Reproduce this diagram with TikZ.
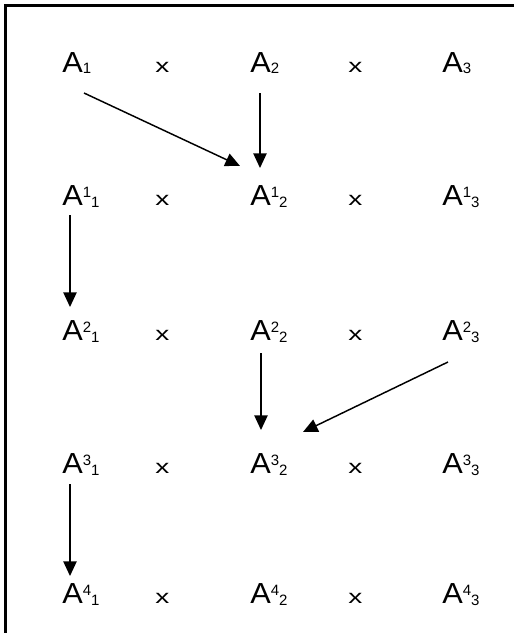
\documentclass[tikz,border=0pt]{standalone}
\usepackage{fontspec}
\setmainfont{Liberation Sans}
\usetikzlibrary{arrows.meta,calc}
\newcommand\bigfnt{\fontsize{21.75pt}{24pt}\selectfont}
\newcommand\digfnt{\fontsize{11.25pt}{12pt}\selectfont}
\newcommand\bigA{\scalebox{1.06}[1]{A}}
\newcommand\Asub[1]{\bigA\raisebox{-0.75pt}{\digfnt #1}}
\newcommand\Asupsub[2]{\bigA\raisebox{6pt}{\digfnt #1}\raisebox{-1.5pt}{\digfnt #2}}
\newcommand\timessign{{\fontsize{14.5pt}{16pt}\selectfont\scalebox{1.45}[1]{x}}}
\begin{document}
\begin{tikzpicture}[x=0.75pt,y=-0.75pt,
  lbl/.style={anchor=base west, inner sep=0pt, font=\bigfnt},
  tms/.style={anchor=base west, inner sep=0pt},
  arr/.style={-{Triangle[length=11pt,width=10pt]}, line width=1.1pt},
  frame/.style={line width=2.25pt}]
\useasboundingbox (0,0) rectangle (514,633);
\fill[white] (0,0) rectangle (514,633);
\coordinate (fa) at (5.5,633);
\coordinate (fb) at (5.5,5.5);
\coordinate (fc) at (514,5.5);
\draw[frame] (fa) -- (fb) -- (fc);
% row 0
\node[lbl] (r0c1) at (62,72) {\Asub{1}};
\node[tms] (t0a) at (155,72) {\timessign};
\node[lbl] (r0c2) at (250,72) {\Asub{2}};
\node[tms] (t0b) at (348,72) {\timessign};
\node[lbl] (r0c3) at (442,72) {\Asub{3}};
% row 1
\node[lbl] (r1c1) at (62,205) {\Asupsub{1}{1}};
\node[tms] (t1a) at (155,205) {\timessign};
\node[lbl] (r1c2) at (250,205) {\Asupsub{1}{2}};
\node[tms] (t1b) at (348,205) {\timessign};
\node[lbl] (r1c3) at (442,205) {\Asupsub{1}{3}};
% row 2
\node[lbl] (r2c1) at (62,340) {\Asupsub{2}{1}};
\node[tms] (t2a) at (155,340) {\timessign};
\node[lbl] (r2c2) at (250,340) {\Asupsub{2}{2}};
\node[tms] (t2b) at (348,340) {\timessign};
\node[lbl] (r2c3) at (442,340) {\Asupsub{2}{3}};
% row 3
\node[lbl] (r3c1) at (62,473) {\Asupsub{3}{1}};
\node[tms] (t3a) at (155,473) {\timessign};
\node[lbl] (r3c2) at (250,473) {\Asupsub{3}{2}};
\node[tms] (t3b) at (348,473) {\timessign};
\node[lbl] (r3c3) at (442,473) {\Asupsub{3}{3}};
% row 4
\node[lbl] (r4c1) at (62,603) {\Asupsub{4}{1}};
\node[tms] (t4a) at (155,603) {\timessign};
\node[lbl] (r4c2) at (250,603) {\Asupsub{4}{2}};
\node[tms] (t4b) at (348,603) {\timessign};
\node[lbl] (r4c3) at (442,603) {\Asupsub{4}{3}};
% arrows
\draw[arr] ($(r0c1.base west)+(22,21)$) -- ($(r1c2.base west)+(-10,-39)$);
\draw[arr] ($(r0c2.base west)+(10,21)$) -- ($(r1c2.base west)+(10,-37)$);
\draw[arr] ($(r1c1.base west)+(8,10)$) -- ($(r2c1.base west)+(8,-33)$);
\draw[arr] ($(r2c2.base west)+(11,13)$) -- ($(r3c2.base west)+(11,-43)$);
\draw[arr] ($(r2c3.base west)+(6,22)$) -- ($(r3c2.base west)+(53,-41)$);
\draw[arr] ($(r3c1.base west)+(8,11)$) -- ($(r4c1.base west)+(8,-27)$);
\end{tikzpicture}
\end{document}
